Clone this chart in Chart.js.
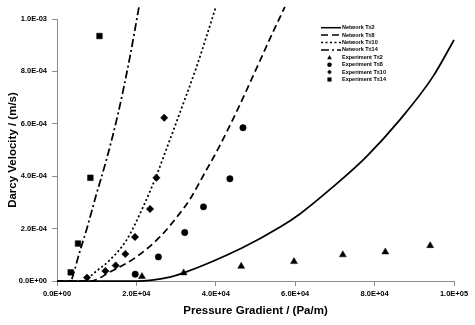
<!DOCTYPE html>
<html>
<head>
<meta charset="utf-8">
<script src="https://cdn.jsdelivr.net/npm/chart.js"></script>
<style>
  body { margin: 0; background: #fff; }
  #wrap { width: 475px; height: 325px; }
</style>
</head>
<body>
<div id="wrap"><canvas id="myChart" width="475" height="325"></canvas></div>
<script>
// network model curves
var netT2x  = [0, 20000, 28400, 31900, 46450, 56100, 61100, 69500, 77900, 86300, 94700, 100000];
var netT2y  = [0, 0, 1.5e-5, 3.1e-5, 1.25e-4, 2.05e-4, 2.55e-4, 3.59e-4, 4.74e-4, 6.14e-4, 7.8e-4, 9.2e-4];
var netT8x  = [0, 8500, 13300, 20000, 25900, 30500, 33400, 37200, 40600, 45200, 50200, 54400, 57400];
var netT8y  = [0, 0, 3.4e-5, 9.2e-5, 1.68e-4, 2.5e-4, 3.1e-4, 4.12e-4, 5.05e-4, 6.45e-4, 8.1e-4, 9.5e-4, 1.046e-3];
var netT10x = [0, 7000, 9100, 13300, 17500, 21700, 25000, 27100, 30900, 35100, 38000, 40000];
var netT10y = [0, 0, 2.8e-5, 8.0e-5, 1.56e-4, 2.83e-4, 4.0e-4, 4.85e-4, 6.4e-4, 8.15e-4, 9.5e-4, 1.046e-3];
var netT14x = [0, 3400, 4300, 5300, 7400, 9900, 12400, 15400, 18300, 20650];
var netT14y = [0, 0, 3.5e-5, 9.0e-5, 1.94e-4, 3.3e-4, 4.6e-4, 6.4e-4, 8.5e-4, 1.046e-3];

// experiments
var expT2x  = [21400, 31900, 46400, 59700, 72000, 82700, 94000];
var expT2y  = [1.7e-5, 3.1e-5, 5.6e-5, 7.4e-5, 1.0e-4, 1.11e-4, 1.35e-4];
var expT8x  = [19700, 25540, 32170, 36900, 43550, 46850];
var expT8y  = [2.6e-5, 9.2e-5, 1.85e-4, 2.83e-4, 3.9e-4, 5.85e-4];
var expT10x = [7560, 12190, 14790, 17220, 19650, 23430, 25040, 27000];
var expT10y = [1.3e-5, 3.8e-5, 5.9e-5, 1.03e-4, 1.68e-4, 2.75e-4, 3.94e-4, 6.23e-4];
var expT14x = [3450, 5290, 8410, 10700];
var expT14y = [3.3e-5, 1.43e-4, 3.94e-4, 9.35e-4];

function pts(xs, ys) {
  return xs.map(function (x, i) { return { x: x, y: ys[i] }; });
}

// 2.0E+04 style labels
function sci(v) {
  var s = Number(v).toExponential(1).split('e');
  var e = parseInt(s[1], 10);
  var ex = Math.abs(e) < 10 ? '0' + Math.abs(e) : '' + Math.abs(e);
  return s[0] + 'E' + (e < 0 ? '-' : '+') + ex;
}

function netLine(label, xs, ys, dash) {
  return {
    label: label, data: pts(xs, ys), showLine: true,
    borderColor: '#000', borderWidth: 1.75, borderDash: dash,
    pointRadius: 0, pointHoverRadius: 0,
    cubicInterpolationMode: 'monotone', clip: false
  };
}
function expPts(label, xs, ys, style, r) {
  return {
    label: label, data: pts(xs, ys), showLine: false,
    pointStyle: style, pointRadius: r,
    backgroundColor: '#000', borderColor: '#000', borderWidth: 0.5
  };
}

// hand-drawn legend like the spreadsheet one
var sheetLegend = {
  id: 'sheetLegend',
  afterDraw: function (chart) {
    var ctx = chart.ctx;
    var y0 = 27.7, step = 7.4;
    ctx.save();
    ctx.font = 'bold 5.5px "Liberation Sans", Arial, sans-serif';
    ctx.textBaseline = 'middle';
    chart.data.datasets.forEach(function (ds, i) {
      var y = y0 + i * step;
      ctx.fillStyle = '#000';
      ctx.strokeStyle = '#000';
      if (ds.showLine) {
        ctx.lineWidth = 1.5;
        ctx.setLineDash(ds.borderDash || []);
        ctx.beginPath();
        ctx.moveTo(321, y);
        ctx.lineTo(341, y);
        ctx.stroke();
        ctx.setLineDash([]);
      } else {
        var cx = 329.5, r = 2.3;
        ctx.beginPath();
        if (ds.pointStyle === 'triangle') {
          ctx.moveTo(cx, y - r); ctx.lineTo(cx + r, y + r * 0.8); ctx.lineTo(cx - r, y + r * 0.8);
        } else if (ds.pointStyle === 'circle') {
          ctx.arc(cx, y, r, 0, Math.PI * 2);
        } else if (ds.pointStyle === 'rectRot') {
          ctx.moveTo(cx, y - r); ctx.lineTo(cx + r, y); ctx.lineTo(cx, y + r); ctx.lineTo(cx - r, y);
        } else {
          ctx.rect(cx - r * 0.9, y - r * 0.9, r * 1.8, r * 1.8);
        }
        ctx.closePath();
        ctx.fill();
      }
      ctx.fillText(ds.label, 342, y);
    });
    ctx.restore();
  }
};

Chart.defaults.font.family = '"Liberation Sans", Arial, sans-serif';
Chart.defaults.font.weight = 'bold';
Chart.defaults.color = '#000';

var ctx = document.getElementById('myChart').getContext('2d');
var chart = new Chart(ctx, {
  type: 'scatter',
  data: {
    datasets: [
      netLine('Network T\u22642', netT2x, netT2y, []),
      netLine('Network T\u22648', netT8x, netT8y, [7, 4]),
      netLine('Network T\u226410', netT10x, netT10y, [2, 2.5]),
      netLine('Network T\u226414', netT14x, netT14y, [8, 3, 2, 3]),
      expPts('Experiment T\u22642', expT2x, expT2y, 'triangle', 4),
      expPts('Experiment T\u22648', expT8x, expT8y, 'circle', 3.2),
      expPts('Experiment T\u226410', expT10x, expT10y, 'rectRot', 3.7),
      expPts('Experiment T\u226414', expT14x, expT14y, 'rect', 4)
    ]
  },
  options: {
    responsive: false,
    animation: false,
    layout: { padding: { top: 19, right: 21, left: 0, bottom: 0 } },
    plugins: { legend: { display: false }, tooltip: { enabled: false } },
    scales: {
      x: {
        type: 'linear', min: 0, max: 100000,
        afterFit: function (s) { s.height = 44; },
        border: { color: '#8c8c8c', width: 1 },
        grid: { drawOnChartArea: false, color: '#8c8c8c', tickLength: 5 },
        ticks: { stepSize: 20000, padding: 3, maxRotation: 0, font: { size: 7.5, weight: 'bold' }, callback: function (v) { return sci(v); } },
        title: { display: true, text: 'Pressure Gradient / (Pa/m)', font: { size: 11.5, weight: 'bold' }, padding: { top: 0, bottom: 7 } }
      },
      y: {
        type: 'linear', min: 0, max: 0.001,
        afterFit: function (s) { s.width = 57; },
        border: { color: '#8c8c8c', width: 1 },
        grid: { drawOnChartArea: false, color: '#8c8c8c', tickLength: 5 },
        ticks: { stepSize: 0.0002, padding: 5, font: { size: 7.5, weight: 'bold' }, callback: function (v) { return sci(v); } },
        title: { display: true, text: 'Darcy Velocity / (m/s)', font: { size: 11.5, weight: 'bold' }, padding: { top: 6, bottom: 0 } }
      }
    }
  },
  plugins: [sheetLegend]
});
</script>
</body>
</html>
